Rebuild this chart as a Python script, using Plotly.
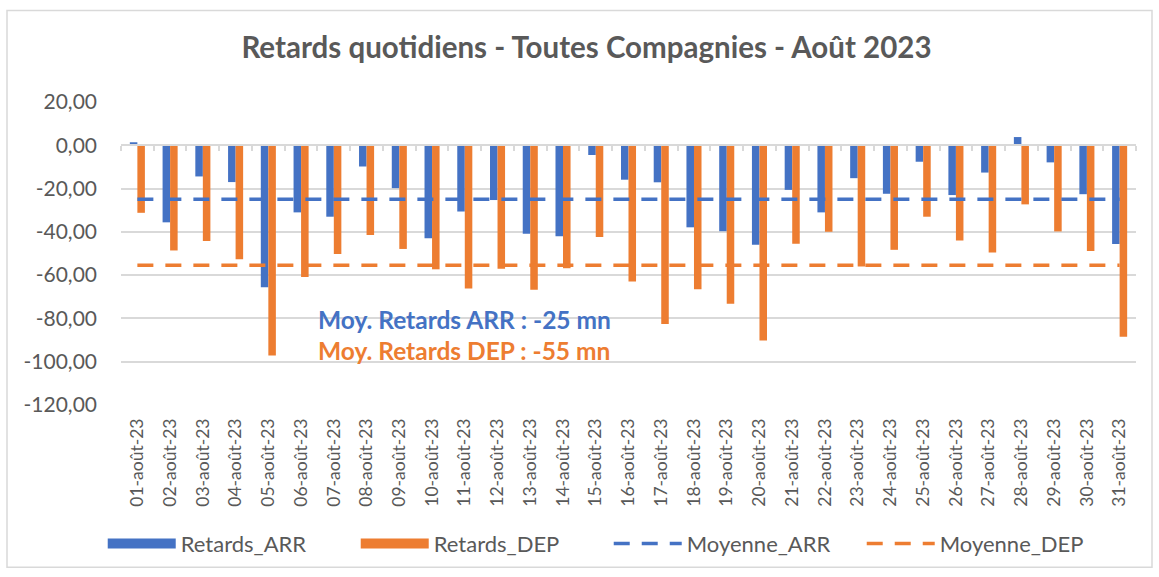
import plotly.graph_objects as go

dates = ["01-août-23", "02-août-23", "03-août-23", "04-août-23", "05-août-23", "06-août-23",
         "07-août-23", "08-août-23", "09-août-23", "10-août-23", "11-août-23", "12-août-23",
         "13-août-23", "14-août-23", "15-août-23", "16-août-23", "17-août-23", "18-août-23",
         "19-août-23", "20-août-23", "21-août-23", "22-août-23", "23-août-23", "24-août-23",
         "25-août-23", "26-août-23", "27-août-23", "28-août-23", "29-août-23", "30-août-23",
         "31-août-23"]

retards_arr = [1.4, -35.6, -14.4, -17.0, -65.6, -31.0, -33.0, -9.8, -19.8, -43.0, -30.6,
               -25.3, -40.9, -42.0, -4.5, -15.9, -17.1, -37.9, -39.7, -45.9, -20.6, -31.0,
               -15.2, -22.4, -7.6, -23.0, -12.6, 3.8, -7.9, -22.6, -45.6]

retards_dep = [-31.2, -48.6, -44.2, -52.7, -97.1, -60.9, -50.2, -41.4, -47.9, -57.3, -66.2,
               -57.0, -66.8, -56.8, -42.4, -62.9, -82.6, -66.5, -73.2, -90.2, -45.5, -40.0,
               -56.0, -48.3, -33.0, -44.0, -49.5, -27.3, -39.8, -48.8, -88.5]

moyenne_arr_value = -24.9
moyenne_dep_value = -55.4
moyenne_arr = [moyenne_arr_value] * len(dates)
moyenne_dep = [moyenne_dep_value] * len(dates)

y_tickvals = [20, 0, -20, -40, -60, -80, -100, -120]
y_ticktext = ["20,00", "0,00", "-20,00", "-40,00", "-60,00", "-80,00", "-100,00", "-120,00"]

BLUE = "#4472C4"
ORANGE = "#ED7D31"
GRID = "#D9D9D9"
TXT = "#595959"
FONT = "Lato"

fig = go.Figure()
fig.add_trace(go.Bar(x=dates, y=retards_arr, name="Retards_ARR", marker_color=BLUE,
                     marker_line_width=0, legendgroup="arr", showlegend=False))
fig.add_trace(go.Bar(x=dates, y=retards_dep, name="Retards_DEP", marker_color=ORANGE,
                     marker_line_width=0, legendgroup="dep", showlegend=False))
# legend proxies (wide rectangle swatches like the original legend)
fig.add_trace(go.Scatter(x=[None], y=[None], name="Retards_ARR", mode="lines",
                         legendgroup="arr", line=dict(color=BLUE, width=14)))
fig.add_trace(go.Scatter(x=[None], y=[None], name="Retards_DEP", mode="lines",
                         legendgroup="dep", line=dict(color=ORANGE, width=14)))
fig.add_trace(go.Scatter(x=dates, y=moyenne_arr, name="Moyenne_ARR", mode="lines",
                         xaxis="x2", line=dict(color=BLUE, width=3.5, dash="16px,12px")))
fig.add_trace(go.Scatter(x=dates, y=moyenne_dep, name="Moyenne_DEP", mode="lines",
                         xaxis="x2", line=dict(color=ORANGE, width=3.5, dash="16px,12px")))

y_min, y_max = -120, 20

fig.update_layout(
    width=1159, height=577,
    margin=dict(l=121, r=23, t=102, b=167),
    paper_bgcolor="white", plot_bgcolor="white",
    font=dict(family=FONT, color=TXT),
    barmode="group", bargap=0.54, bargroupgap=0,
    title=dict(text="Retards quotidiens - Toutes Compagnies - Août 2023",
               font=dict(family=FONT, size=29.5, color=TXT, weight="bold"),
               x=0.506, xref="container", xanchor="center",
               y=1 - 48 / 577, yref="container", yanchor="middle"),
    xaxis=dict(type="category", range=[-0.5, len(dates) - 0.5], showgrid=False,
               showline=False, ticks="", tickangle=-90,
               tickfont=dict(family=FONT, size=17.5, color=TXT), ticklabelstandoff=9),
    xaxis2=dict(type="category", range=[-0.5, len(dates) - 0.5], overlaying="x",
                anchor="free", position=(0 - y_min) / (y_max - y_min), side="bottom",
                showgrid=False, showticklabels=False, showline=True, linecolor=GRID,
                linewidth=1.5, ticks="outside", tickson="boundaries", ticklen=5,
                tickcolor=GRID, tickwidth=1.5),
    yaxis=dict(range=[y_min, y_max], tickvals=y_tickvals, ticktext=y_ticktext,
               showgrid=True, gridcolor=GRID, gridwidth=1.5, zeroline=False,
               showline=False, ticks="", ticklabelstandoff=23,
               tickfont=dict(family=FONT, size=21, color=TXT)),
    legend=dict(orientation="h", x=-0.018, xanchor="left", y=-0.458, yanchor="middle",
                font=dict(family=FONT, size=22, color=TXT), entrywidth=170,
                itemwidth=68, traceorder="normal"),
    showlegend=True,
)

fig.add_annotation(text="<b>Moy. Retards ARR : -25 mn</b>", xref="paper", yref="paper",
                   x=(316 - 121) / 1015, y=(410 - 323) / 308, xanchor="left",
                   yanchor="middle", showarrow=False,
                   font=dict(family=FONT, size=24.5, color=BLUE))
fig.add_annotation(text="<b>Moy. Retards DEP : -55 mn</b>", xref="paper", yref="paper",
                   x=(316 - 121) / 1015, y=(410 - 355) / 308, xanchor="left",
                   yanchor="middle", showarrow=False,
                   font=dict(family=FONT, size=24.5, color=ORANGE))

# chart frame
fig.add_shape(type="rect", xref="paper", yref="paper",
              x0=(7 - 121) / 1015, x1=(1152 - 121) / 1015,
              y0=(410 - 575) / 308, y1=(410 - 9) / 308,
              line=dict(color=GRID, width=1.5), fillcolor="rgba(0,0,0,0)", layer="below")

fig.write_html("out.html", config={"displayModeBar": False},
               post_script="document.body.style.margin='0';")
